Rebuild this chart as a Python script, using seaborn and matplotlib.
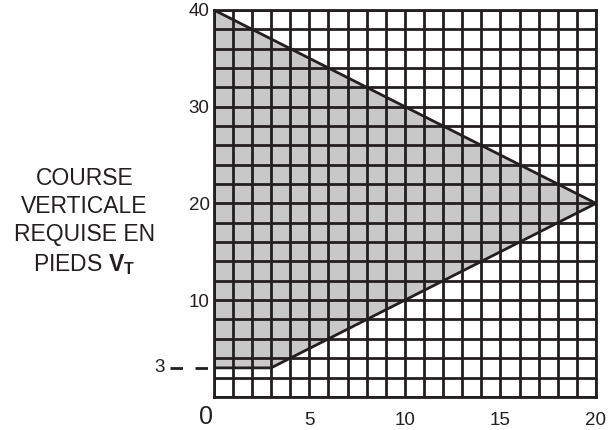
import matplotlib
matplotlib.use('Agg')
import matplotlib.pyplot as plt
import seaborn as sns
import numpy as np
import pandas as pd

# zone boundary (x = horizontal, y = vertical course required, feet)
zone_x = [0, 3, 20, 0]
zone_y = [3, 3, 20, 40]
x_ticks = [5, 10, 15, 20]
y_ticks = [10, 20, 30, 40]
y_mark = 3

sns.set_style('white')
plt.rcParams['font.family'] = ['Liberation Sans', 'DejaVu Sans']
plt.rcParams['mathtext.fontset'] = 'custom'
plt.rcParams['mathtext.rm'] = 'Liberation Sans'
plt.rcParams['mathtext.bf'] = 'Liberation Sans:bold'

fig = plt.figure(figsize=(6.16, 4.30), dpi=100)
ax = fig.add_axes([0.347, 0.077, 0.6205, 0.9])

zone = pd.DataFrame({'x': zone_x, 'y': zone_y})
ax.fill(zone['x'], zone['y'], color='#c8c8c8', zorder=1, lw=0)

# grid
ax.set_xticks(np.arange(0, 21, 1), minor=True)
ax.set_yticks(np.arange(0, 41, 2), minor=True)
ax.grid(which='both', color='#231f20', lw=2, zorder=2)
ax.set_axisbelow(False)

sns.lineplot(data=zone, x='x', y='y', sort=False, estimator=None,
             color='#231f20', lw=2, ax=ax, zorder=3)

ax.set_xlim(0, 20)
ax.set_ylim(0, 40)
for s in ax.spines.values():
    s.set_color('#231f20')
    s.set_linewidth(2)

ax.set_xticks(x_ticks)
ax.set_yticks(y_ticks)
ax.tick_params(which='both', length=0, labelsize=13.5, colors='#231f20')
ax.tick_params(axis='x', pad=11)
ax.tick_params(axis='y', pad=3)
ax.set_xlabel('')
ax.set_ylabel('')

# origin and the 3 ft mark
ax.text(-0.42, -0.8, '0', fontsize=18, ha='center', va='top', color='#231f20')
ax.text(-2.85, y_mark, '3', fontsize=13.5, ha='center', va='center', color='#231f20')
ax.plot([-2.3, 0], [y_mark, y_mark], ls=(0, (4.5, 4.5)), lw=2,
        color='#231f20', clip_on=False)

fig.text(0.137, 0.484, 'COURSE\nVERTICALE\nREQUISE EN\nPIEDS $\\mathbf{V_T}$',
         fontsize=16.5, ha='center', va='center', linespacing=1.3, color='#231f20')

fig.savefig('out.png', dpi=100)
